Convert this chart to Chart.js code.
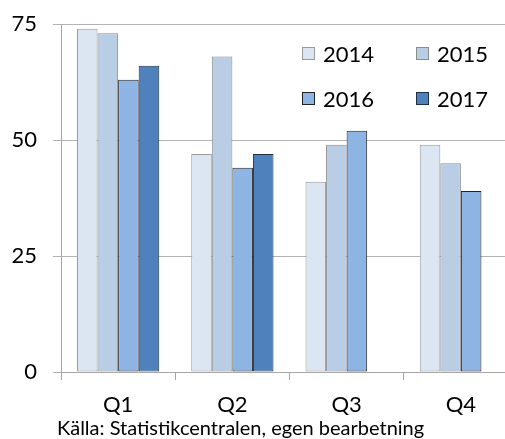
<!DOCTYPE html>
<html>
<head>
<meta charset="utf-8">
<script src="https://cdn.jsdelivr.net/npm/chart.js@4"></script>
<style>
    html, body { margin: 0; padding: 0; overflow: hidden; background: #fff; }
    #wrap { position: relative; width: 520px; height: 439px; }
    #note { position: absolute; left: 57px; top: 415px; font: 20px Lato, sans-serif; line-height: 24px; color: #000; white-space: nowrap; }
</style>
</head>
<body>
<div id="wrap">
    <canvas id="chart" width="520" height="439"></canvas>
    <div id="note">Källa: Statistikcentralen, egen bearbetning</div>
</div>
<script>
const quarters = ['Q1', 'Q2', 'Q3', 'Q4'];
const years = ['2014', '2015', '2016', '2017'];
const values2014 = [74, 47, 41, 49];
const values2015 = [73, 68, 49, 45];
const values2016 = [63, 44, 52, 39];
const values2017 = [66, 47, null, null];
const yTicks = [0, 25, 50, 75];

const fills = ['#dce6f2', '#b9cde5', '#8eb4e3', '#4f81bd'];
const borders = ['#9a9a9a', '#8c8c8c', '#222222', '#1f2f45'];
const FONT = 'Lato, sans-serif';

// legend sits inside the plot, 2 x 2
const insideLegend = {
    id: 'insideLegend',
    afterDraw(chart) {
        const ctx = chart.ctx;
        const cols = [302, 416], rows = [47, 92];
        ctx.save();
        ctx.font = '22px ' + FONT;
        ctx.textBaseline = 'middle';
        chart.data.datasets.forEach((ds, i) => {
            const x = cols[i % 2], y = rows[Math.floor(i / 2)];
            ctx.fillStyle = ds.backgroundColor;
            ctx.fillRect(x, y, 13, 13);
            ctx.strokeStyle = ds.borderColor;
            ctx.lineWidth = 1;
            ctx.strokeRect(x + 0.5, y + 0.5, 12, 12);
            ctx.fillStyle = '#000';
            ctx.fillText(ds.label, x + 21, y + 8);
        });
        ctx.restore();
    }
};

const series = [values2014, values2015, values2016, values2017];

new Chart(document.getElementById('chart'), {
    type: 'bar',
    data: {
        labels: quarters,
        datasets: years.map((y, i) => ({
            label: y,
            data: series[i],
            backgroundColor: fills[i],
            borderColor: borders[i],
            borderWidth: 1,
            borderSkipped: false,
            categoryPercentage: 0.72,
            barPercentage: 1
        }))
    },
    options: {
        responsive: false,
        animation: false,
        devicePixelRatio: 1,
        layout: { padding: { top: 24, right: 2, left: 0, bottom: 0 } },
        plugins: {
            legend: { display: false },
            tooltip: { enabled: false }
        },
        scales: {
            x: {
                grid: { drawOnChartArea: false, drawTicks: true, tickLength: 8, color: '#a6a6a6', offset: true },
                border: { color: '#a6a6a6', width: 1 },
                ticks: { color: '#000', font: { family: FONT, size: 22 }, padding: 12 },
                afterFit(scale) { scale.height = 67; }
            },
            y: {
                min: 0,
                max: 75,
                afterBuildTicks(scale) { scale.ticks = yTicks.map(v => ({ value: v })); },
                grid: { color: '#b3b3b3', tickLength: 8, drawTicks: true },
                border: { color: '#a6a6a6', width: 1 },
                ticks: { color: '#000', font: { family: FONT, size: 22 }, padding: 16 },
                afterFit(scale) {
                    scale.width = 61;
                    scale.paddingTop = 0;
                    scale.paddingBottom = 0;
                }
            }
        }
    },
    plugins: [insideLegend]
});
</script>
</body>
</html>
